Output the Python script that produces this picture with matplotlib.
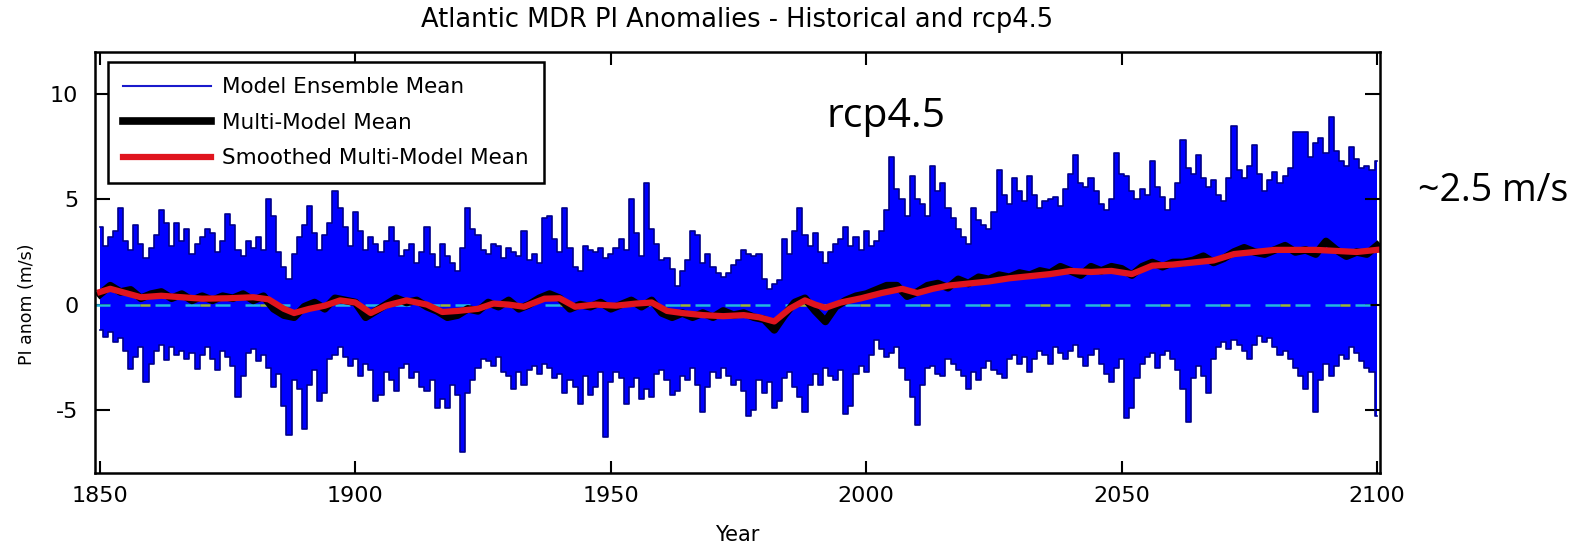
import numpy as np
import matplotlib.pyplot as plt

plt.rcParams['axes.unicode_minus'] = False

# years of the annual model output
years = np.arange(1850, 2101)

# upper edge of the model ensemble spread (m/s)
upper_env = [
    3.7, 2.8, 3.2, 3.5, 4.6, 3.0, 2.6, 3.8, 2.9, 2.2,
    2.7, 3.3, 4.5, 3.9, 2.8, 3.9, 3.0, 3.6, 2.4, 2.9,
    3.2, 3.6, 3.4, 2.5, 3.0, 4.3, 3.8, 2.6, 2.3, 3.0,
    2.7, 3.2, 2.6, 5.0, 4.2, 2.5, 1.8, 1.2, 2.4, 3.2,
    3.8, 4.7, 3.4, 2.6, 3.3, 3.9, 5.4, 4.6, 3.7, 2.8,
    4.4, 3.5, 2.6, 3.2, 2.9, 2.5, 3.0, 3.7, 3.0, 2.3,
    2.6, 2.9, 2.0, 2.5, 3.7, 2.4, 1.8, 2.9, 2.3, 2.0,
    1.6, 2.7, 4.6, 3.6, 3.3, 2.6, 2.4, 2.9, 2.8, 2.2,
    2.7, 2.5, 2.3, 3.5, 2.1, 2.4, 2.0, 4.1, 4.2, 3.1,
    2.5, 4.6, 2.7, 1.8, 1.6, 2.8, 2.6, 2.5, 2.7, 2.2,
    2.4, 2.7, 3.1, 2.6, 5.0, 3.4, 2.3, 5.8, 3.6, 2.9,
    2.1, 2.2, 1.7, 0.9, 1.6, 2.1, 3.5, 3.3, 2.0, 2.4,
    1.8, 1.5, 1.3, 1.5, 1.9, 2.1, 2.6, 2.4, 2.3, 2.4,
    1.2, 0.75, 1.0, 1.15, 3.1, 2.4, 3.5, 4.6, 3.3, 2.8,
    3.4, 2.5, 2.0, 2.5, 2.9, 3.1, 3.7, 2.8, 3.2, 2.6,
    3.5, 2.8, 3.0, 3.5, 4.5, 7.0, 5.5, 5.0, 4.2, 6.1,
    5.0, 4.8, 4.2, 6.6, 5.4, 5.8, 4.6, 4.1, 3.6, 3.2,
    2.9, 4.6, 4.0, 3.8, 3.6, 4.4, 6.4, 5.2, 4.8, 6.0,
    5.4, 4.9, 6.1, 5.2, 4.6, 4.9, 5.0, 5.1, 4.7, 5.5,
    6.2, 7.1, 5.8, 5.6, 6.0, 5.4, 4.8, 4.5, 5.0, 7.2,
    6.2, 6.1, 5.4, 5.0, 5.5, 5.2, 6.8, 5.6, 5.1, 4.5,
    5.0, 5.8, 7.8, 6.5, 6.2, 7.1, 6.0, 5.6, 5.9, 5.2,
    4.9, 6.0, 8.5, 6.4, 6.0, 6.6, 7.6, 6.2, 5.4, 5.9,
    6.3, 5.8, 6.1, 6.5, 8.2, 8.2, 8.2, 7.0, 7.7, 7.9,
    7.2, 8.9, 7.3, 6.8, 6.6, 7.5, 6.9, 6.5, 6.6, 6.4,
    6.8,
]

# lower edge of the model ensemble spread (m/s)
lower_env = [
    -1.2, -1.55, -1.3, -1.8, -1.6, -2.2, -3.05, -2.5, -2.0, -3.7,
    -2.8, -2.2, -1.9, -2.65, -2.0, -2.4, -2.2, -2.6, -2.3, -3.05,
    -2.4, -2.0, -2.6, -3.1, -2.2, -2.5, -2.9, -4.4, -3.4, -2.3,
    -2.1, -2.7, -2.4, -3.0, -3.9, -3.3, -4.8, -6.2, -3.6, -4.0,
    -5.9, -3.8, -3.1, -4.6, -4.2, -2.6, -2.4, -2.0, -2.5, -2.9,
    -2.6, -3.4, -2.8, -3.1, -4.6, -4.3, -3.2, -3.6, -4.1, -3.0,
    -2.8, -3.5, -3.2, -3.9, -4.1, -3.6, -4.9, -4.5, -4.9, -3.8,
    -4.3, -7.0, -4.2, -3.6, -3.0, -2.6, -2.7, -2.9, -2.5, -3.2,
    -3.4, -4.0, -3.2, -3.8, -3.1, -2.9, -3.3, -2.8, -3.0, -3.5,
    -3.3, -4.2, -3.6, -3.9, -4.7, -3.4, -4.3, -3.9, -3.2, -6.3,
    -3.7, -3.2, -3.5, -4.7, -3.9, -3.5, -4.5, -4.0, -4.4, -3.3,
    -3.1, -3.6, -4.3, -4.1, -3.4, -3.6, -3.0, -3.8, -5.1, -3.9,
    -3.2, -3.5, -3.0, -3.4, -3.8, -3.6, -4.1, -5.3, -5.0, -3.6,
    -4.2, -3.7, -4.9, -4.6, -3.5, -3.2, -3.9, -4.4, -5.1, -3.8,
    -3.3, -3.8, -3.0, -3.4, -3.6, -3.1, -5.2, -4.8, -3.3, -2.9,
    -3.2, -2.4, -1.7, -2.1, -2.5, -2.3, -2.0, -3.0, -3.6, -4.4,
    -5.7, -3.8, -3.0, -2.9, -3.3, -3.4, -2.6, -2.8, -3.1, -3.4,
    -4.0, -3.2, -3.6, -3.0, -2.7, -3.1, -3.3, -3.5, -2.6, -2.4,
    -2.8, -2.5, -3.2, -2.6, -2.2, -2.4, -2.8, -2.0, -2.3, -2.6,
    -2.2, -1.9, -2.5, -2.9, -2.4, -2.1, -2.8, -3.3, -3.7, -3.0,
    -2.6, -5.4, -4.9, -3.5, -2.8, -2.5, -2.3, -3.0, -2.4, -2.2,
    -2.6, -3.1, -4.0, -5.6, -3.5, -2.9, -3.4, -4.2, -2.6, -2.0,
    -1.8, -2.1, -1.7, -1.9, -2.2, -2.6, -1.9, -1.5, -1.8, -1.6,
    -2.0, -2.4, -2.2, -2.6, -3.0, -3.4, -4.0, -3.2, -5.1, -3.6,
    -2.8, -3.4, -2.9, -2.4, -2.6, -2.0, -2.3, -2.7, -3.0, -3.2,
    -5.3,
]

# multi-model mean, every second year
mmm_years = np.arange(1850, 2101, 2)
mmm = [
    0.5, 0.9, 0.6, 0.7, 0.3, 0.5, 0.6, 0.3, 0.5, 0.2,
    0.4, 0.2, 0.4, 0.3, 0.5, 0.2, 0.4, -0.2, -0.5, -0.6,
    -0.1, 0.1, -0.2, 0.3, 0.2, 0.1, -0.6, -0.3, 0.0, 0.3,
    0.1, 0.2, -0.1, -0.3, -0.6, -0.5, -0.2, -0.3, 0.1, -0.1,
    0.2, -0.2, 0.0, 0.3, 0.5, 0.3, -0.2, 0.0, -0.1, 0.1,
    -0.2, 0.0, 0.2, -0.1, 0.2, -0.4, -0.6, -0.4, -0.6, -0.4,
    -0.6, -0.3, -0.5, -0.4, -0.6, -0.7, -1.2, -0.5, 0.1, 0.3,
    -0.3, -0.8, -0.1, 0.2, 0.4, 0.5, 0.7, 0.9, 0.9, 0.4,
    0.6, 0.9, 1.0, 0.8, 1.2, 1.0, 1.3, 1.2, 1.4, 1.3,
    1.5, 1.4, 1.6, 1.5, 1.8, 1.6, 1.4, 1.8, 1.6, 1.8,
    1.7, 1.4, 1.8, 2.0, 1.8, 2.0, 2.0, 2.1, 2.3, 2.0,
    2.2, 2.5, 2.7, 2.5, 2.4, 2.6, 2.8, 2.5, 2.6, 2.4,
    3.0, 2.6, 2.3, 2.5, 2.4, 2.8,
]

# smoothed multi-model mean
smooth_years = [1850, 1852, 1855, 1858, 1862, 1866, 1870, 1875, 1880, 1883,
                1886, 1888, 1891, 1894, 1897, 1900, 1903, 1906, 1910, 1914,
                1917, 1920, 1924, 1927, 1930, 1933, 1937, 1940, 1943, 1947,
                1951, 1955, 1958, 1961, 1964, 1968, 1972, 1976, 1979, 1982,
                1985, 1988, 1990, 1992, 1995, 1999, 2003, 2007, 2010, 2013,
                2016, 2020, 2024, 2028, 2032, 2036, 2040, 2044, 2048, 2052,
                2056, 2060, 2064, 2068, 2072, 2076, 2080, 2084, 2088, 2092,
                2096, 2100]
smooth = [0.6, 0.75, 0.55, 0.35, 0.42, 0.35, 0.28, 0.3, 0.35, 0.25,
          -0.2, -0.4, -0.2, -0.05, 0.2, 0.1, -0.4, -0.05, 0.2, 0.0,
          -0.35, -0.3, -0.2, 0.05, 0.0, -0.1, 0.28, 0.3, -0.1, 0.0,
          -0.05, 0.05, 0.1, -0.3, -0.4, -0.5, -0.55, -0.5, -0.6, -0.8,
          -0.2, 0.2, 0.0, -0.15, 0.1, 0.3, 0.55, 0.75, 0.55, 0.75,
          0.9, 1.0, 1.1, 1.25, 1.35, 1.45, 1.6, 1.55, 1.6, 1.45,
          1.85, 1.9, 2.0, 2.1, 2.4, 2.5, 2.6, 2.6, 2.6, 2.55,
          2.5, 2.6]

fig = plt.figure(figsize=(15.9, 5.49), dpi=100)
ax = fig.add_axes([0.0597, 0.1384, 0.8083, 0.7669])

# ensemble spread
ax.fill_between(years, lower_env, upper_env, step='mid', color='#0000ff', lw=0)
ax.plot(years, upper_env, drawstyle='steps-mid', color='#00008a', lw=1.2)
ax.plot(years, lower_env, drawstyle='steps-mid', color='#00008a', lw=1.2)
ens_handle, = ax.plot([], [], color='#1a1acc', lw=1.5)

# zero line (cyan / green dashes)
ax.axhline(0, color='#22b8e0', lw=1.8, linestyle=(0, (6, 6)))
ax.axhline(0, color='#9bb830', lw=1.8, linestyle=(6, (4, 20)))

mmm_handle, = ax.plot(mmm_years, mmm, color='black', lw=5.5)
sm_handle, = ax.plot(smooth_years, smooth, color='#e0141e', lw=4.5)

ax.set_xlim(1849, 2100.6)
ax.set_ylim(-8, 12)
ax.set_xticks([1850, 1900, 1950, 2000, 2050, 2100])
ax.set_yticks([-5, 0, 5, 10])
ax.tick_params(direction='in', top=True, right=True, labelsize=16, width=1.5)
ax.tick_params(axis='x', length=9, pad=9)
ax.tick_params(axis='y', length=11, pad=12)
for s in ax.spines.values():
    s.set_linewidth(1.8)

ax.set_title('Atlantic MDR PI Anomalies - Historical and rcp4.5', fontsize=18.5, pad=18)
ax.set_xlabel('Year', fontsize=15, labelpad=14)
ax.set_ylabel('PI anom (m/s)', fontsize=12.5, labelpad=8)
ax.yaxis.set_label_coords(-0.046, 0.40)

leg = ax.legend([ens_handle, mmm_handle, sm_handle],
                ['Model Ensemble Mean', 'Multi-Model Mean', 'Smoothed Multi-Model Mean'],
                loc='upper left', bbox_to_anchor=(0.0101, 0.976), borderaxespad=0,
                fontsize=15.5, handlelength=4.1, handletextpad=0.5, labelspacing=0.72,
                borderpad=0.7, fancybox=False, framealpha=1, edgecolor='black')
leg.get_frame().set_linewidth(1.8)

fig.text(886 / 1590, 1 - 117 / 549, 'rcp4.5', fontsize=29.5, family='Open Sans',
         ha='center', va='center')
fig.text(1493 / 1590, 1 - 191 / 549, '~2.5 m/s', fontsize=27, family='Open Sans',
         ha='center', va='center')

fig.savefig('out.png', dpi=100)
